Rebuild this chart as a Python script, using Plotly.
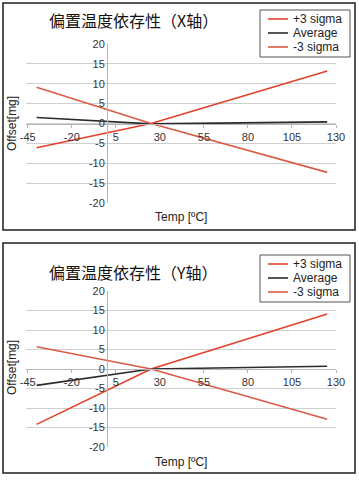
import plotly.graph_objects as go

# ---- data ----
temps = [-40, 25, 125]
x_plus3 = [-6.1, 0.0, 13.2]
x_avg = [1.5, -0.1, 0.4]
x_minus3 = [9.1, 0.0, -12.3]

y_plus3 = [-14.2, 0.0, 14.1]
y_avg = [-4.2, 0.0, 0.7]
y_minus3 = [5.7, 0.0, -12.9]

x_ticks = [-45, -20, 5, 30, 55, 80, 105, 130]
y_ticks = [20, 15, 10, 5, 0, -5, -10, -15, -20]
series_names = ["+3 sigma", "Average", "-3 sigma"]
titles = ["偏置温度依存性（X轴）", "偏置温度依存性（Y轴）"]

W, H = 359, 480
XR = [-46, 130]
YR = [-20, 20]
colors = ["#e2402b", "#2b2b2b", "#da5a44"]

def px_x(p):
    return p / W

def px_y(p):
    return 1 - p / H

x_dom = [px_x(26), px_x(336)]
dom_top = [px_y(203), px_y(44)]
dom_bot = [px_y(447), px_y(291)]

fig = go.Figure()
panels = [
    (dict(x="x", y="y"), [x_plus3, x_avg, x_minus3]),
    (dict(x="x2", y="y2"), [y_plus3, y_avg, y_minus3]),
]
for ax, series in panels:
    for name, vals, c in zip(series_names, series, colors):
        fig.add_trace(go.Scatter(
            x=temps, y=vals, mode="lines", name=name,
            line=dict(color=c, width=1.6),
            xaxis=ax["x"], yaxis=ax["y"], showlegend=False,
        ))

tick_font = dict(family="Liberation Sans, Arial", size=11, color="#333333")

def xpos_of_zero():
    return x_dom[0] + (0 - XR[0]) / (XR[1] - XR[0]) * (x_dom[1] - x_dom[0])

def ypos_of_zero(dom):
    return dom[0] + (0 - YR[0]) / (YR[1] - YR[0]) * (dom[1] - dom[0])

def xaxis_cfg(dom):
    return dict(domain=x_dom, range=XR, anchor="free", position=ypos_of_zero(dom),
                tickvals=x_ticks, ticktext=[str(v) for v in x_ticks],
                showgrid=False, zeroline=False, showline=True,
                linecolor="#b5b5b5", linewidth=1,
                ticks="outside", ticklen=3, tickcolor="#b5b5b5",
                tickfont=tick_font, fixedrange=True, automargin=False)

def yaxis_cfg(dom):
    return dict(domain=dom, range=YR, anchor="free", position=xpos_of_zero(),
                tickvals=y_ticks, ticktext=[str(v) for v in y_ticks],
                showgrid=True, gridcolor="#cfcfcf", gridwidth=1,
                zeroline=False, showline=True, linecolor="#b5b5b5", linewidth=1,
                ticks="", tickfont=tick_font, fixedrange=True, automargin=False)

fig.update_layout(
    width=W, height=H,
    margin=dict(l=0, r=0, t=0, b=0, autoexpand=False),
    paper_bgcolor="white", plot_bgcolor="white",
    xaxis=xaxis_cfg(dom_top), yaxis=yaxis_cfg(dom_top),
    xaxis2=xaxis_cfg(dom_bot), yaxis2=yaxis_cfg(dom_bot),
    showlegend=False,
)

# panel frames
for top, bot in [(3, 230), (243, 473)]:
    fig.add_shape(type="rect", xref="paper", yref="paper",
                  x0=px_x(3), x1=px_x(355), y0=px_y(bot), y1=px_y(top),
                  line=dict(color="#1e1e1e", width=1.5), fillcolor="rgba(0,0,0,0)",
                  layer="above")

# legends (box, short line samples, labels)
for off in (0, 245):
    fig.add_shape(type="rect", xref="paper", yref="paper",
                  x0=px_x(260), x1=px_x(350), y0=px_y(57 + off), y1=px_y(10 + off),
                  line=dict(color="#555555", width=1), fillcolor="white", layer="above")
    for i, (name, c) in enumerate(zip(series_names, colors)):
        ry = 19 + off + i * 14
        fig.add_shape(type="line", xref="paper", yref="paper",
                      x0=px_x(268), x1=px_x(288), y0=px_y(ry), y1=px_y(ry),
                      line=dict(color=c, width=1.6), layer="above")
        fig.add_annotation(text=name, xref="paper", yref="paper",
                           x=px_x(291), y=px_y(ry), showarrow=False,
                           xanchor="left", yanchor="middle",
                           font=dict(family="Liberation Sans, Arial", size=12, color="#222222"))

# titles and axis titles
for title, ty, oy, tmp_y in [(titles[0], 20, 124, 217), (titles[1], 272, 368, 462)]:
    fig.add_annotation(text=title, xref="paper", yref="paper",
                       x=px_x(133), y=px_y(ty), showarrow=False,
                       xanchor="center", yanchor="middle",
                       font=dict(family="Noto Sans CJK SC", size=16, color="#111111"))
    fig.add_annotation(text="Offset[mg]", xref="paper", yref="paper",
                       x=px_x(12), y=px_y(oy), showarrow=False, textangle=-90,
                       xanchor="center", yanchor="middle",
                       font=dict(family="Liberation Sans, Arial", size=12, color="#222222"))
    fig.add_annotation(text="Temp [ºC]", xref="paper", yref="paper",
                       x=px_x(181), y=px_y(tmp_y), showarrow=False,
                       xanchor="center", yanchor="middle",
                       font=dict(family="Liberation Sans, Arial", size=12, color="#222222"))

fig.write_html("out.html", config={"displayModeBar": False},
               post_script="document.body.style.margin='0';document.body.style.overflow='hidden';")
